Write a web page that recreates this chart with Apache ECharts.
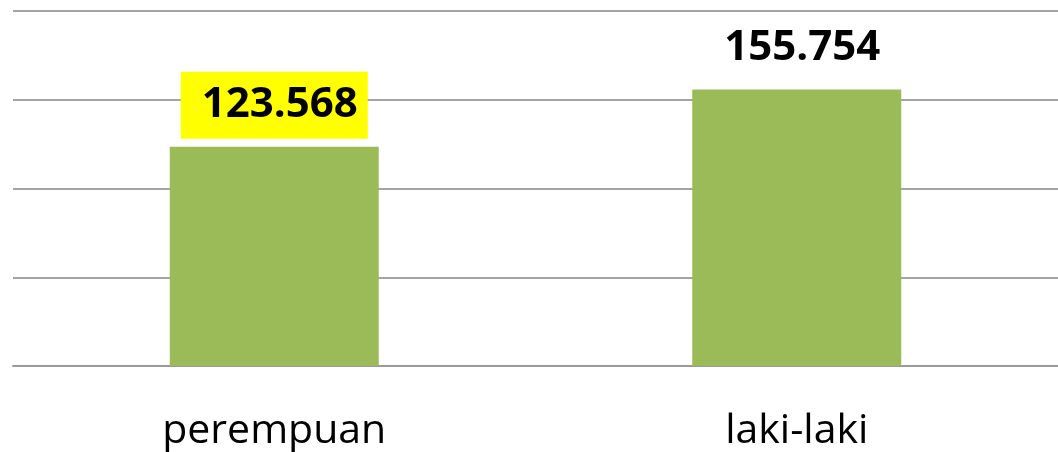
<!DOCTYPE html>
<html>
<head>
<meta charset="utf-8">
<script src="https://cdn.jsdelivr.net/npm/echarts@6/dist/echarts.min.js"></script>
<style>
  html, body { margin: 0; padding: 0; background: #fff; }
  #chart { width: 1058px; height: 452px; }
</style>
</head>
<body>
<div id="chart"></div>
<script>
// data
const categories = ["perempuan", "laki-laki"];
const values = [123568, 155754];
const highlighted = ["perempuan"];
const yMax = 200000;
const yStep = 50000;

// 123568 -> "123.568"
const fmt = (v) => String(v).replace(/\B(?=(\d{3})+(?!\d))/g, ".");

var myChart = echarts.init(document.getElementById("chart"));

var option = {
  animation: false,
  grid: {
    left: 13,
    right: 0,
    top: 11,
    bottom: 86,
  },
  xAxis: {
    type: "category",
    data: categories,
    axisTick: { show: false },
    axisLine: { lineStyle: { color: "#9a9a9a", width: 2 } },
    axisLabel: {
      margin: 45,
      color: "#000",
      fontSize: 41,
      fontFamily: "Open Sans",
    },
  },
  yAxis: {
    type: "value",
    min: 0,
    max: yMax,
    interval: yStep,
    axisLabel: { show: false },
    axisLine: { show: false },
    axisTick: { show: false },
    splitLine: { lineStyle: { color: "#868686", width: 1.5 } },
  },
  series: [
    {
      type: "bar",
      barWidth: "40%",
      itemStyle: { color: "#9bbb59" },
      label: {
        show: true,
        position: "top",
        distance: 8,
        formatter: (p) => fmt(p.value),
        color: "#000",
        fontSize: 42,
        lineHeight: 42,
        fontWeight: "bold",
        fontFamily: "Open Sans",
        padding: [12, 10, 13, 21],
      },
      data: values.map((v, i) => ({
        value: v,
        label: highlighted.includes(categories[i])
          ? { backgroundColor: "#ffff00" }
          : {},
      })),
    },
  ],
};

myChart.setOption(option);
</script>
</body>
</html>
